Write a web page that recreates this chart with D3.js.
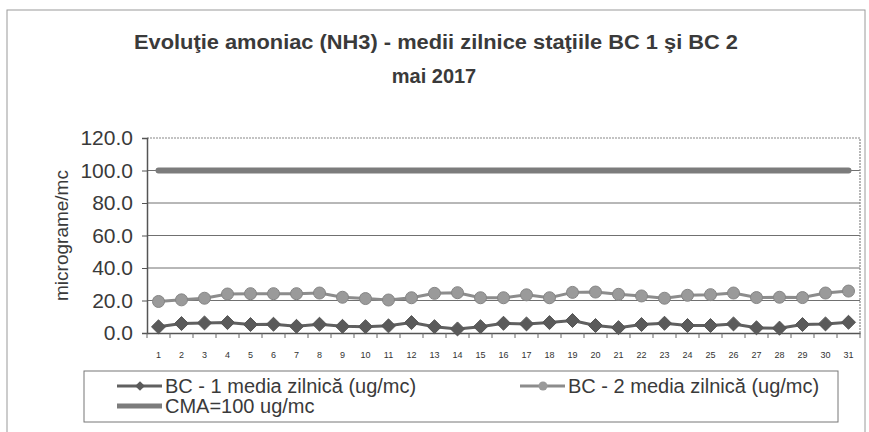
<!DOCTYPE html>
<html>
<head>
<meta charset="utf-8">
<script src="https://cdn.jsdelivr.net/npm/d3@7"></script>
<style>
  html, body { margin: 0; padding: 0; background: #fff; }
  svg { display: block; font-family: "Liberation Sans", Arial, sans-serif; }
</style>
</head>
<body>
<div id="chart"></div>
<script>
// Daily ammonia means, stations BC 1 and BC 2, May 2017, with the CMA limit.
const DAYS = d3.range(1, 32);
const BC1 = [3.8, 5.8, 6.2, 6.4, 5.2, 5.4, 4.1, 5.4, 4.1, 3.9,
             4.4, 6.4, 3.9, 2.5, 3.9, 6.0, 5.6, 6.4, 7.7, 4.6,
             3.3, 5.2, 6.0, 4.6, 4.6, 5.6, 3.2, 3.0, 5.2, 5.6, 6.6];
const BC2 = [19.4, 20.4, 21.4, 24.0, 24.2, 24.2, 24.2, 24.6, 22.0, 21.2,
             20.3, 21.7, 24.4, 24.8, 21.7, 21.7, 23.5, 21.7, 25.0, 25.2,
             23.8, 22.8, 21.4, 23.2, 23.6, 24.6, 21.8, 22.0, 21.8, 24.6, 25.8];
const CMA = DAYS.map(() => 100);
const Y_TICKS = [0, 20, 40, 60, 80, 100, 120];

const TITLE_1 = "Evoluţie amoniac (NH3) - medii zilnice staţiile BC 1 şi BC 2";
const TITLE_2 = "mai 2017";
const Y_LABEL = "micrograme/mc";
const LEGEND = ["BC - 1 media zilnică (ug/mc)", "BC - 2 media zilnică (ug/mc)", "CMA=100 ug/mc"];

const W = 869, H = 432;
const PLOT = { left: 147, right: 860, top: 138, bottom: 333 };

const svg = d3.select("#chart").append("svg")
    .attr("width", W).attr("height", H);

// outer chart frame
svg.append("rect")
    .attr("x", 7).attr("y", 10)
    .attr("width", 858).attr("height", 440)
    .attr("fill", "none")
    .attr("stroke", "#9a9a9a").attr("stroke-width", 1);

// title
svg.append("text")
    .attr("x", 436).attr("y", 49)
    .attr("text-anchor", "middle")
    .attr("font-size", 20).attr("font-weight", "bold").attr("fill", "#3a3a3a")
    .attr("textLength", 604).attr("lengthAdjust", "spacingAndGlyphs")
    .text(TITLE_1);
svg.append("text")
    .attr("x", 434).attr("y", 83)
    .attr("text-anchor", "middle")
    .attr("font-size", 20).attr("font-weight", "bold").attr("fill", "#3a3a3a")
    .text(TITLE_2);

// scales
const x = d3.scaleBand().domain(DAYS).range([PLOT.left, PLOT.right]);
const cx = (d) => x(d) + x.bandwidth() / 2;
const y = d3.scaleLinear().domain([0, 120]).range([PLOT.bottom, PLOT.top]);

// grid lines
svg.append("g")
    .selectAll("line")
    .data(Y_TICKS.filter((v) => v > 0 && v < 120))
    .join("line")
    .attr("x1", PLOT.left).attr("x2", PLOT.right)
    .attr("y1", (v) => y(v)).attr("y2", (v) => y(v))
    .attr("stroke", "#707070").attr("stroke-width", 1);

// top and right plot border (dotted grey)
svg.append("path")
    .attr("d", `M${PLOT.left},${y(120)}H${PLOT.right}V${PLOT.bottom}`)
    .attr("fill", "none")
    .attr("stroke", "#888").attr("stroke-width", 1.2)
    .attr("stroke-dasharray", "2,1");

// y axis
const yAxis = svg.append("g")
    .attr("transform", `translate(${PLOT.left},0)`)
    .call(d3.axisLeft(y).tickValues(Y_TICKS).tickFormat(d3.format(".1f"))
        .tickSize(5).tickPadding(9));
yAxis.select(".domain").attr("stroke", "#555").attr("stroke-width", 1.5);
yAxis.selectAll(".tick line").attr("stroke", "#555");
yAxis.selectAll(".tick text")
    .attr("font-size", 21).attr("fill", "#3a3a3a")
    .attr("font-family", "'Liberation Sans', Arial, sans-serif");

// x axis: ticks between categories
const xAxis = svg.append("g")
    .attr("transform", `translate(0,${PLOT.bottom})`)
    .call(d3.axisBottom(x).tickSize(0).tickPadding(19));
xAxis.select(".domain").attr("stroke", "#555").attr("stroke-width", 1.5);
xAxis.selectAll(".tick text")
    .attr("font-size", 9).attr("fill", "#333")
    .attr("font-family", "'Liberation Sans', Arial, sans-serif");
xAxis.append("g")
    .selectAll("line")
    .data(DAYS.concat([32]))
    .join("line")
    .attr("x1", (d) => d === 32 ? PLOT.right : x(d))
    .attr("x2", (d) => d === 32 ? PLOT.right : x(d))
    .attr("y1", 0).attr("y2", 5)
    .attr("stroke", "#666");

// y axis title
svg.append("text")
    .attr("transform", `translate(68,${(PLOT.top + PLOT.bottom) / 2}) rotate(-90)`)
    .attr("text-anchor", "middle")
    .attr("font-size", 19).attr("fill", "#3a3a3a")
    .text(Y_LABEL);

// series
const line = d3.line().x((d, i) => cx(DAYS[i])).y((d) => y(d));

svg.append("path").datum(CMA)
    .attr("d", line)
    .attr("fill", "none")
    .attr("stroke", "#7c7c7c").attr("stroke-width", 6)
    .attr("stroke-linecap", "round");

svg.append("path").datum(BC2)
    .attr("d", line)
    .attr("fill", "none")
    .attr("stroke", "#8c8c8c").attr("stroke-width", 3);
svg.append("g").selectAll("circle")
    .data(BC2)
    .join("circle")
    .attr("cx", (d, i) => cx(DAYS[i])).attr("cy", (d) => y(d))
    .attr("r", 6)
    .attr("fill", "#9a9a9a").attr("stroke", "#858585").attr("stroke-width", 1);

svg.append("path").datum(BC1)
    .attr("d", line)
    .attr("fill", "none")
    .attr("stroke", "#606060").attr("stroke-width", 3);
const diamond = d3.symbol().type(d3.symbolDiamond2).size(125);
svg.append("g").selectAll("path")
    .data(BC1)
    .join("path")
    .attr("transform", (d, i) => `translate(${cx(DAYS[i])},${y(d)})`)
    .attr("d", diamond)
    .attr("fill", "#5a5a5a").attr("stroke", "#555").attr("stroke-width", 1);

// legend
const lg = svg.append("g");
lg.append("rect")
    .attr("x", 84).attr("y", 371)
    .attr("width", 754).attr("height", 51)
    .attr("fill", "#fff")
    .attr("stroke", "#777").attr("stroke-width", 1);

function legendItem(lx, ly, label, kind) {
    const g = lg.append("g").attr("transform", `translate(${lx},${ly})`);
    if (kind === "cma") {
        g.append("line").attr("x1", 0).attr("x2", 45).attr("y1", 0).attr("y2", 0)
            .attr("stroke", "#7c7c7c").attr("stroke-width", 5);
    } else if (kind === "bc1") {
        g.append("line").attr("x1", 0).attr("x2", 45).attr("y1", 0).attr("y2", 0)
            .attr("stroke", "#606060").attr("stroke-width", 3);
        g.append("path").attr("transform", "translate(23,0)")
            .attr("d", d3.symbol().type(d3.symbolDiamond2).size(60))
            .attr("fill", "#5a5a5a");
    } else {
        g.append("line").attr("x1", 0).attr("x2", 45).attr("y1", 0).attr("y2", 0)
            .attr("stroke", "#8c8c8c").attr("stroke-width", 3);
        g.append("circle").attr("cx", 23).attr("cy", 0).attr("r", 4.5)
            .attr("fill", "#9a9a9a");
    }
    g.append("text")
        .attr("x", 48).attr("y", 7)
        .attr("font-size", 20).attr("fill", "#3a3a3a")
        .text(label);
}
legendItem(117, 386, LEGEND[0], "bc1");
legendItem(520, 386, LEGEND[1], "bc2");
legendItem(117, 406, LEGEND[2], "cma");
</script>
</body>
</html>
